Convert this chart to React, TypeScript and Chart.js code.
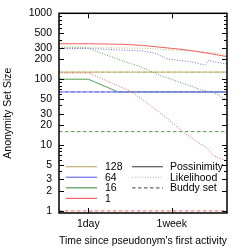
import React, { useEffect, useRef } from 'react';
import { Chart, registerables } from 'chart.js';

Chart.register(...registerables);

// ---- axis data ----
const xTickDays = [1, 7];
const xTickLabels = ['1day', '1week'];
const yTicks = [1, 2, 3, 5, 10, 20, 30, 50, 100, 200, 300, 500, 1000];
const xMin = 0.505;
const xMax = 25.4;
const yMin = 0.93;
const yMax = 1000;

// ---- series (x in days) ----
const groupNames = ['128', '64', '16', '1'];
const metricNames = ['Possinimity', 'Likelihood', 'Buddy set'];

// Possinimity
const poss128Days = [0.505, 25.4];
const poss128 = [128, 128];
const poss64Days = [0.505, 25.4];
const poss64 = [64, 64];
const poss16Days = [0.505, 1, 2.0, 25.4];
const poss16 = [100, 100, 64, 64];
const poss1Days = [0.505, 1, 2.3, 3.6, 8.5, 10.9, 17, 25.4];
const poss1 = [345, 345, 338, 325, 285, 272, 245, 220];

// Likelihood
const like128Days = [0.505, 1, 3.6, 8.5, 17, 25.4];
const like128 = [300, 300, 295, 275, 255, 232];
const like64Days = [0.505, 1, 3.6, 4.9, 6.2, 8.5, 11.6, 15.2, 16.4, 19.7, 25.4];
const like64 = [292, 292, 268, 243, 204, 192, 181, 162, 192, 181, 171];
const like16Days = [0.505, 1, 1.27, 2.19, 3.6, 5.3, 8.5, 13.5, 17, 19.7, 25.4];
const like16 = [298, 298, 256, 192, 149, 114, 90, 70, 64, 60, 48];
const like1Days = [0.505, 1, 1.37, 2.66, 3.6, 5.3, 7, 9.7, 15.9, 18.7, 25.4];
const like1 = [124, 124, 102, 66, 48, 31, 22, 14.7, 9, 6.9, 5.6];

// Buddy set
const buddyDays = [0.505, 25.4];
const buddy128 = [128, 128];
const buddy64 = [64, 64];
const buddy16 = [16, 16];
const buddy1 = [1, 1];

// ---- styles ----
const COLORS: Record<string, string> = {
  '128': '#c2b272',
  '64': '#6e6ef2',
  '16': '#4f9f4f',
  '1': '#f06262',
};
const FONT = { family: '"Liberation Sans", Arial, Helvetica, sans-serif', size: 10.5 };
const DOT = [1, 1.6];
const DASH = [3.5, 2.5];

function pts(xs: number[], ys: number[]) {
  return xs.map((x, i) => ({ x, y: ys[i] }));
}

const framePlugin = {
  id: 'frame',
  afterDatasetsDraw(chart: any) {
    const { ctx, chartArea: a, scales } = chart;
    const xs = scales.x;
    const ys = scales.y;
    ctx.save();
    ctx.strokeStyle = '#000';
    ctx.lineWidth = 1;
    ctx.setLineDash([]);
    ctx.beginPath();
    for (let k = 0; k < 3; k++) {
      for (let m = 1; m < 10; m++) {
        const v = m * Math.pow(10, k);
        if (v < yMin) continue;
        const py = Math.round(ys.getPixelForValue(v)) + 0.5;
        const len = yTicks.includes(v) ? 5 : 3;
        ctx.moveTo(a.left, py);
        ctx.lineTo(a.left + len, py);
        ctx.moveTo(a.right, py);
        ctx.lineTo(a.right - len, py);
      }
    }
    xTickDays.forEach((d) => {
      const px = Math.round(xs.getPixelForValue(d)) + 0.5;
      ctx.moveTo(px, a.bottom);
      ctx.lineTo(px, a.bottom - 5);
      ctx.moveTo(px, a.top);
      ctx.lineTo(px, a.top + 5);
    });
    ctx.stroke();
    ctx.lineWidth = 1.5;
    ctx.strokeRect(a.left, a.top, a.right - a.left, a.bottom - a.top);

    // legend
    ctx.font = `${FONT.size}px ${FONT.family}`;
    ctx.textBaseline = 'middle';
    ctx.textAlign = 'left';
    const rowY0 = a.top + 153.4;
    const step = 10.55;
    groupNames.forEach((g, i) => {
      const y = rowY0 + i * step;
      ctx.strokeStyle = COLORS[g];
      ctx.lineWidth = 1.2;
      ctx.setLineDash([]);
      ctx.beginPath();
      ctx.moveTo(a.left + 7, y);
      ctx.lineTo(a.left + 38, y);
      ctx.stroke();
      ctx.fillStyle = '#000';
      ctx.fillText(g, a.left + 46, y + 0.5);
    });
    const metricStyles = [
      { c: '#555', d: [] as number[] },
      { c: '#aaa', d: DOT },
      { c: '#666', d: DASH },
    ];
    metricNames.forEach((n, i) => {
      const y = rowY0 + i * step;
      ctx.strokeStyle = metricStyles[i].c;
      ctx.lineWidth = 1.2;
      ctx.setLineDash(metricStyles[i].d);
      ctx.beginPath();
      ctx.moveTo(a.left + 73, y);
      ctx.lineTo(a.left + 104, y);
      ctx.stroke();
      ctx.setLineDash([]);
      ctx.fillStyle = '#000';
      ctx.fillText(n, a.left + 111, y + 0.5);
    });
    ctx.restore();
  },
};

export default function App() {
  const ref = useRef<HTMLCanvasElement>(null);
  useEffect(() => {
    const ds = (label: string, xs: number[], ysv: number[], g: string, dash: number[], order: number) => ({
      label,
      data: pts(xs, ysv),
      borderColor: COLORS[g],
      backgroundColor: COLORS[g],
      borderWidth: 1,
      borderDash: dash,
      pointRadius: 0,
      fill: false,
      tension: 0,
      order,
    });
    const datasets = [
      ds('128 Possinimity', poss128Days, poss128, '128', [], 12),
      ds('128 Likelihood', like128Days, like128, '128', DOT, 11),
      ds('128 Buddy set', buddyDays, buddy128, '128', DASH, 10),
      ds('16 Possinimity', poss16Days, poss16, '16', [], 9),
      ds('16 Likelihood', like16Days, like16, '16', DOT, 8),
      ds('16 Buddy set', buddyDays, buddy16, '16', DASH, 7),
      ds('64 Buddy set', buddyDays, buddy64, '64', DASH, 6),
      ds('64 Likelihood', like64Days, like64, '64', DOT, 5),
      ds('64 Possinimity', poss64Days, poss64, '64', [], 4),
      ds('1 Possinimity', poss1Days, poss1, '1', [], 3),
      ds('1 Likelihood', like1Days, like1, '1', DOT, 2),
      ds('1 Buddy set', buddyDays, buddy1, '1', DASH, 1),
    ];
    const chart = new Chart(ref.current!, {
      type: 'line',
      data: { datasets },
      options: {
        responsive: false,
        animation: false,
        events: [],
        layout: { padding: { top: 12, right: 21, bottom: 0, left: 0 } },
        plugins: { legend: { display: false }, tooltip: { enabled: false } },
        scales: {
          x: {
            type: 'logarithmic',
            min: xMin,
            max: xMax,
            grid: { display: false, drawTicks: false },
            border: { display: false },
            ticks: {
              font: FONT,
              color: '#000',
              padding: 5,
              maxRotation: 0,
              autoSkip: false,
              callback: (v: any) => {
                const i = xTickDays.indexOf(Number(v));
                return i >= 0 ? xTickLabels[i] : '';
              },
            },
            afterBuildTicks: (s: any) => {
              s.ticks = xTickDays.map((v) => ({ value: v }));
            },
            afterFit: (s: any) => {
              s.height = 36;
            },
            title: {
              display: true,
              text: "Time since pseudonym's first activity",
              font: FONT,
              color: '#000',
              padding: { top: 0, bottom: 2 },
            },
          },
          y: {
            type: 'logarithmic',
            min: yMin,
            max: yMax,
            grid: { display: false, drawTicks: false },
            border: { display: false },
            ticks: {
              font: FONT,
              color: '#000',
              padding: 7,
              autoSkip: false,
              callback: (v: any) => String(v),
            },
            afterBuildTicks: (s: any) => {
              s.ticks = yTicks.map((v) => ({ value: v }));
            },
            afterFit: (s: any) => {
              s.width = 59;
            },
            title: {
              display: true,
              text: 'Anonymity Set Size',
              font: FONT,
              color: '#000',
              padding: { top: 2, bottom: 0 },
            },
          },
        },
      },
      plugins: [framePlugin],
    } as any);
    return () => chart.destroy();
  }, []);
  return (
    <div style={{ position: 'absolute', left: 0, top: 0, width: 248, height: 249, background: '#fff' }}>
      <canvas ref={ref} width={248} height={249} style={{ display: 'block' }} />
    </div>
  );
}
